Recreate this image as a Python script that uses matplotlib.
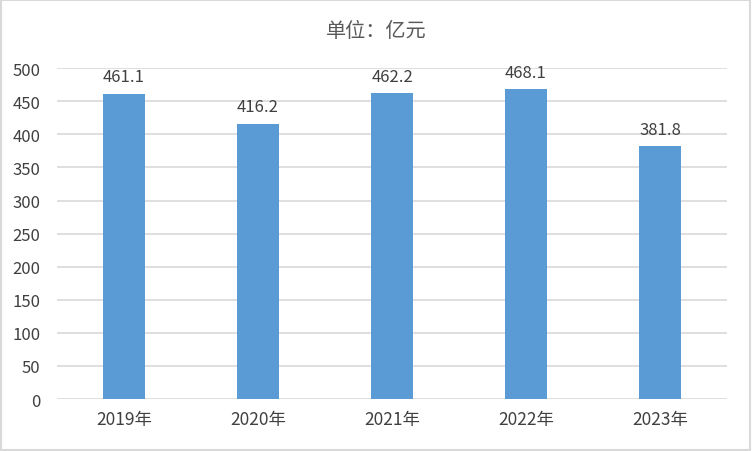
import matplotlib
matplotlib.use('Agg')
import matplotlib.pyplot as plt
from matplotlib.patches import Rectangle

plt.rcParams['font.family'] = ['Noto Sans CJK SC', 'DejaVu Sans']

# data
years = ['2019年', '2020年', '2021年', '2022年', '2023年']
values = [461.1, 416.2, 462.2, 468.1, 381.8]
yticks = [0, 50, 100, 150, 200, 250, 300, 350, 400, 450, 500]

text_color = '#404040'
bar_color = '#5B9BD5'
grid_color = '#D9D9D9'

fig = plt.figure(figsize=(7.52, 4.52), dpi=100)
ax = fig.add_axes([0.0758, 0.115, 0.891, 0.732])

x = list(range(len(years)))
ax.bar(x, values, width=0.31, color=bar_color, zorder=3)
for xi, v in zip(x, values):
    ax.text(xi, v + 13, '{:.1f}'.format(v), ha='center', va='bottom',
            fontsize=12, color=text_color, zorder=4)

ax.set_xlim(-0.5, len(years) - 0.5)
ax.set_ylim(0, 500)
ax.set_yticks(yticks)
ax.set_yticklabels([str(t) for t in yticks], fontsize=12, color=text_color)
ax.set_xticks(x)
ax.set_xticklabels(years, fontsize=12.5, color=text_color)
ax.tick_params(axis='both', length=0)
ax.tick_params(axis='x', pad=8)
ax.tick_params(axis='y', pad=12)
ax.yaxis.grid(True, color=grid_color, lw=1.2, zorder=0)
for s in ax.spines.values():
    s.set_visible(False)

fig.text(0.5, 0.93, '单位：亿元', ha='center', va='center',
         fontsize=14.5, color='#595959')

# light outer border
fig.patches.append(Rectangle((0.001, 0.002), 0.997, 0.996, transform=fig.transFigure,
                             fill=False, edgecolor='#D9D9D9', lw=1.5))

fig.savefig('out.png', dpi=100)
